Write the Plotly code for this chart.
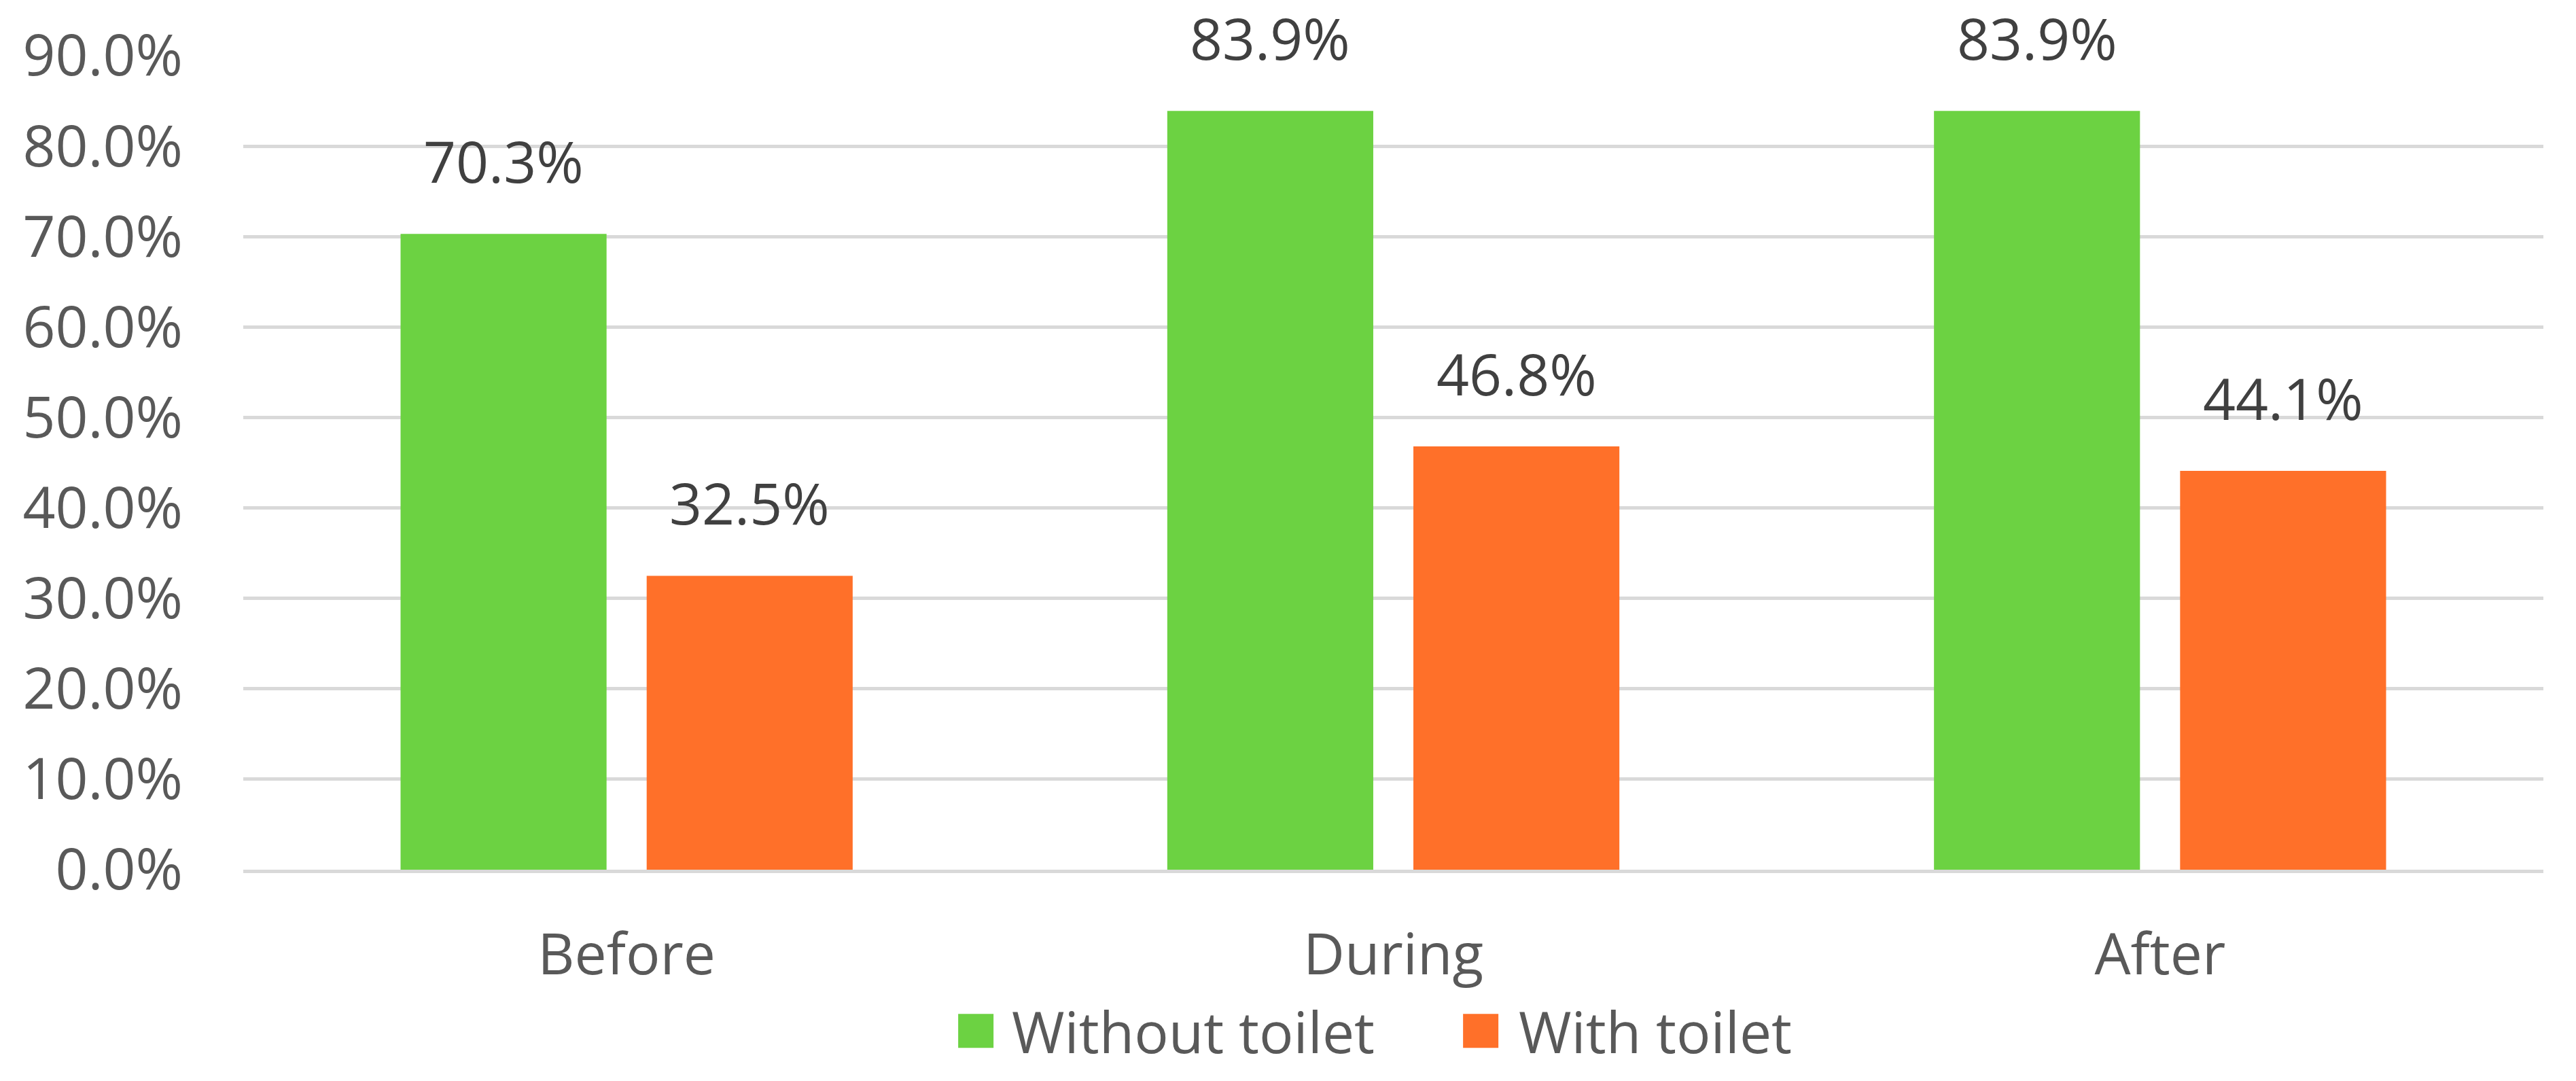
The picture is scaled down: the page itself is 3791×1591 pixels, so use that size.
import plotly.graph_objects as go

# data
phases = ["Before", "During", "After"]
without_toilet = [0.703, 0.839, 0.839]
with_toilet = [0.325, 0.468, 0.441]
series_names = ["Without toilet", "With toilet"]
series_colors = ["#6CD242", "#FF7029"]
y_ticks = [0.0, 0.1, 0.2, 0.3, 0.4, 0.5, 0.6, 0.7, 0.8, 0.9]

FONT = "Open Sans, Noto Sans, sans-serif"
BARGAP = 0.358
GROUPGAP = 0.163
LEG_Y = -0.198

fig = go.Figure()
for name, vals, col in zip(series_names, [without_toilet, with_toilet], series_colors):
    fig.add_trace(go.Bar(x=phases, y=vals, name=name, marker_color=col,
                         marker_line_width=0, showlegend=False))

# value labels, sitting a bit above each bar like in Excel
half = (1 - BARGAP) / 4
for k, vals in enumerate([without_toilet, with_toilet]):
    off = -half if k == 0 else half
    for i, v in enumerate(vals):
        fig.add_annotation(x=i + off, y=v, xref="x", yref="y", text=f"{v*100:.1f}%",
                           showarrow=False, yanchor="bottom", yshift=48,
                           font=dict(family=FONT, size=84, color="#404040"))

# custom legend with big swatches
leg_pos = [(0.3185, 0.3335), (0.538, 0.554)]
for (sx, tx), name, col in zip(leg_pos, series_names, series_colors):
    fig.add_shape(type="rect", xref="paper", yref="paper", xsizemode="pixel", ysizemode="pixel",
                  xanchor=sx, yanchor=LEG_Y, x0=-26, x1=26, y0=-25, y1=25,
                  fillcolor=col, line_width=0)
    fig.add_annotation(x=tx, y=LEG_Y, xref="paper", yref="paper", text=name,
                       showarrow=False, xanchor="left", yanchor="middle",
                       font=dict(family=FONT, size=84, color="#595959"))

# page body has an 8px margin, so the figure is a bit smaller than the window
fig.update_layout(
    width=3775, height=1575,
    margin=dict(l=350, r=40, t=74, b=303),
    barmode="group", bargap=BARGAP, bargroupgap=GROUPGAP,
    plot_bgcolor="white", paper_bgcolor="white",
    font=dict(family=FONT, size=84, color="#595959"),
    showlegend=False,
)
fig.update_yaxes(range=[0, 0.9], tickvals=y_ticks, tickformat=".1%",
                 showgrid=True, gridcolor="#D9D9D9", gridwidth=5,
                 zeroline=False, showline=False, ticks="", ticklabelstandoff=88,
                 tickfont=dict(family=FONT, size=84, color="#595959"))
fig.update_xaxes(showline=True, linecolor="#D9D9D9", linewidth=5, ticks="",
                 ticklabelstandoff=48,
                 tickfont=dict(family=FONT, size=84, color="#595959"))

fig.write_html("out.html")
